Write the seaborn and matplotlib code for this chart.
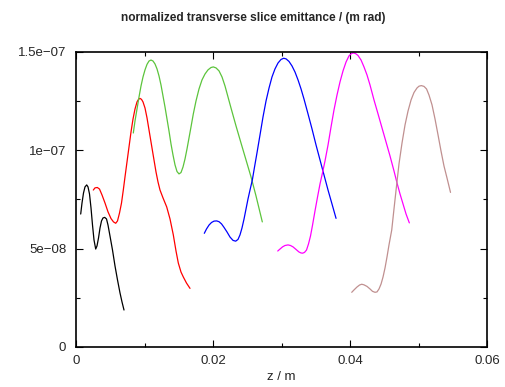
import matplotlib
matplotlib.use("Agg")
import matplotlib.pyplot as plt
import matplotlib.ticker as mticker
import pandas as pd
import seaborn as sns

# z in mm, emittance in 1e-8 m rad
z1 = [0.686, 0.876, 1.095, 1.314, 1.562, 1.752, 1.971, 2.190, 2.409, 2.628, 2.876, 3.066, 3.285,
      3.504, 3.723, 3.942, 4.190, 4.453, 4.672, 4.964, 5.328, 5.693, 6.058, 6.423, 6.715, 7.007]
e1 = [6.76, 7.32, 7.83, 8.14, 8.24, 8.14, 7.78, 7.07, 6.20, 5.44, 4.98, 5.14, 5.54,
      6.05, 6.41, 6.56, 6.59, 6.51, 6.20, 5.64, 4.93, 4.12, 3.41, 2.75, 2.29, 1.88]

z2 = [2.526, 2.774, 3.109, 3.431, 3.796, 4.234, 4.672, 5.109, 5.474, 5.796, 6.058, 6.350, 6.642,
      6.905, 7.153, 7.445, 7.737, 8.029, 8.321, 8.613, 8.905, 9.124, 9.343, 9.562, 9.781, 10.073,
      10.365, 10.803, 11.241, 11.679, 11.971, 12.263, 12.701, 13.241, 13.723, 14.204, 14.599,
      14.934, 15.328, 15.664, 16.131, 16.642]
e2 = [7.98, 8.09, 8.11, 8.03, 7.73, 7.32, 6.87, 6.53, 6.36, 6.29, 6.41, 6.81, 7.32,
      7.98, 8.65, 9.41, 10.17, 10.93, 11.59, 12.10, 12.46, 12.59, 12.64, 12.59, 12.46, 12.15,
      11.65, 10.73, 9.81, 8.90, 8.39, 7.98, 7.58, 7.12, 6.51, 5.70, 4.88,
      4.27, 3.81, 3.56, 3.25, 2.98]

z3 = [8.365, 8.613, 8.905, 9.197, 9.489, 9.781, 10.073, 10.365, 10.657, 10.949, 11.241, 11.533,
      11.825, 12.117, 12.409, 12.701, 12.993, 13.285, 13.577, 13.869, 14.161, 14.453, 14.745,
      15.036, 15.328, 15.620, 15.912, 16.204, 16.496, 16.788, 17.124, 17.518, 17.956, 18.394,
      18.832, 19.270, 19.708, 20.044, 20.438, 20.876, 21.314, 21.752, 22.190, 22.628, 23.358,
      24.088, 24.818, 25.547, 26.277, 27.197]
e3 = [10.88, 11.49, 12.10, 12.71, 13.27, 13.73, 14.09, 14.37, 14.54, 14.59, 14.54, 14.39,
      14.14, 13.78, 13.32, 12.76, 12.20, 11.59, 10.98, 10.32, 9.76, 9.26, 8.92,
      8.80, 8.87, 9.15, 9.56, 10.07, 10.63, 11.19, 11.85, 12.51, 13.12, 13.58,
      13.88, 14.09, 14.21, 14.24, 14.19, 14.04, 13.73, 13.27, 12.71, 12.15, 11.24,
      10.37, 9.51, 8.65, 7.68, 6.36]

z4 = [18.73, 19.05, 19.42, 19.78, 20.15, 20.54, 20.88, 21.24, 21.61, 22.04, 22.48, 22.92, 23.31,
      23.65, 23.94, 24.23, 24.53, 24.82, 25.11, 25.40, 25.74, 26.06, 26.42, 26.86, 27.30, 27.74,
      28.18, 28.61, 29.05, 29.49, 29.93, 30.32, 30.66, 31.09, 31.53, 31.97, 32.41, 32.85, 33.28,
      33.87, 34.45, 35.04, 35.62, 36.20, 36.79, 37.37, 37.96]
e4 = [5.78, 6.00, 6.20, 6.33, 6.40, 6.41, 6.37, 6.26, 6.08, 5.85, 5.59, 5.42, 5.38,
      5.47, 5.70, 6.05, 6.51, 7.02, 7.53, 7.98, 8.49, 9.15, 9.87, 10.78, 11.70, 12.51,
      13.17, 13.73, 14.14, 14.44, 14.62, 14.68, 14.65, 14.52, 14.29, 13.98, 13.58, 13.12, 12.61,
      11.85, 11.09, 10.27, 9.51, 8.75, 7.98, 7.27, 6.54]

z5 = [29.45, 29.78, 30.15, 30.51, 30.95, 31.31, 31.68, 32.12, 32.55, 32.85, 33.09, 33.36, 33.65,
      33.94, 34.23, 34.53, 34.89, 35.26, 35.62, 36.01, 36.35, 36.79, 37.23, 37.66, 38.10, 38.54,
      38.98, 39.42, 39.85, 40.22, 40.48, 40.80, 41.17, 41.61, 42.04, 42.48, 42.92, 43.50, 44.09,
      44.67, 45.26, 45.84, 46.42, 46.86, 47.30, 47.74, 48.18, 48.66]
e5 = [4.88, 4.98, 5.09, 5.16, 5.19, 5.16, 5.09, 4.96, 4.83, 4.78, 4.77, 4.81, 4.93,
      5.24, 5.64, 6.20, 6.92, 7.63, 8.29, 8.90, 9.46, 10.27, 11.19, 12.05, 12.81, 13.48,
      14.04, 14.49, 14.80, 14.92, 14.95, 14.92, 14.82, 14.59, 14.24, 13.83, 13.32, 12.56, 11.85,
      11.14, 10.42, 9.71, 8.95, 8.34, 7.78, 7.27, 6.76, 6.31]

z6 = [40.25, 40.58, 41.02, 41.39, 41.71, 42.04, 42.48, 42.92, 43.28, 43.65, 43.94, 44.23, 44.53,
      44.82, 45.11, 45.40, 45.69, 46.09, 46.42, 46.82, 47.15, 47.59, 48.03, 48.47, 48.91, 49.34,
      49.78, 50.07, 50.41, 50.80, 51.17, 51.53, 51.97, 52.41, 52.85, 53.28, 53.72, 54.16, 54.67]
e6 = [2.78, 2.90, 3.05, 3.15, 3.19, 3.16, 3.08, 2.95, 2.83, 2.78, 2.80, 2.95, 3.20,
      3.56, 4.02, 4.58, 5.19, 5.95, 7.02, 8.29, 9.31, 10.37, 11.29, 12.00, 12.56, 12.94,
      13.17, 13.26, 13.29, 13.25, 13.12, 12.81, 12.31, 11.59, 10.78, 9.97, 9.20, 8.59, 7.86]

slices = [(z1, e1), (z2, e2), (z3, e3), (z4, e4), (z5, e5), (z6, e6)]
colors = ["#000000", "#ff0000", "#5cc43c", "#0000ff", "#ff00ff", "#c09090"]

rows = []
for k, (zz, ee) in enumerate(slices):
    for a, b in zip(zz, ee):
        rows.append({"slice": k, "z": a * 1e-3, "eps": b * 1e-8})
df = pd.DataFrame(rows)

sns.set_style("ticks")
plt.rcParams["font.family"] = ["Liberation Sans", "DejaVu Sans"]

fig = plt.figure(figsize=(5.06, 3.87), dpi=100)
ax = fig.add_axes([0.1502, 0.1034, 0.8123, 0.7623])

sns.lineplot(data=df, x="z", y="eps", hue="slice", palette=colors, sort=False,
             estimator=None, linewidth=0.9, legend=False, ax=ax)

ax.set_xlim(0, 0.06)
ax.set_ylim(0, 1.5e-7)
ax.set_xticks([0, 0.02, 0.04, 0.06])
ax.set_xticklabels(["0", "0.02", "0.04", "0.06"])
ax.set_yticks([0, 5e-8, 1e-7, 1.5e-7])
ax.set_yticklabels(["0", "5e\u221208", "1e\u221207", "1.5e\u221207"])
ax.xaxis.set_minor_locator(mticker.MultipleLocator(0.01))
ax.yaxis.set_minor_locator(mticker.MultipleLocator(2.5e-8))
ax.tick_params(which="both", direction="in", top=True, right=True, labelsize=9.5,
               color="black", width=0.8)
ax.tick_params(which="major", length=5)
ax.tick_params(axis="y", which="major", pad=7)
ax.tick_params(axis="x", which="major", pad=6)
ax.tick_params(which="minor", length=3)
for s in ax.spines.values():
    s.set_linewidth(1.2)
    s.set_color("black")

ax.set_xlabel("z / m", fontsize=9.5, labelpad=3)
ax.set_ylabel("")
fig.text(0.5, 0.953, "normalized transverse slice emittance / (m rad)", fontsize=8.6,
         fontweight="bold", ha="center", va="center")

fig.savefig("out.png", dpi=100)
